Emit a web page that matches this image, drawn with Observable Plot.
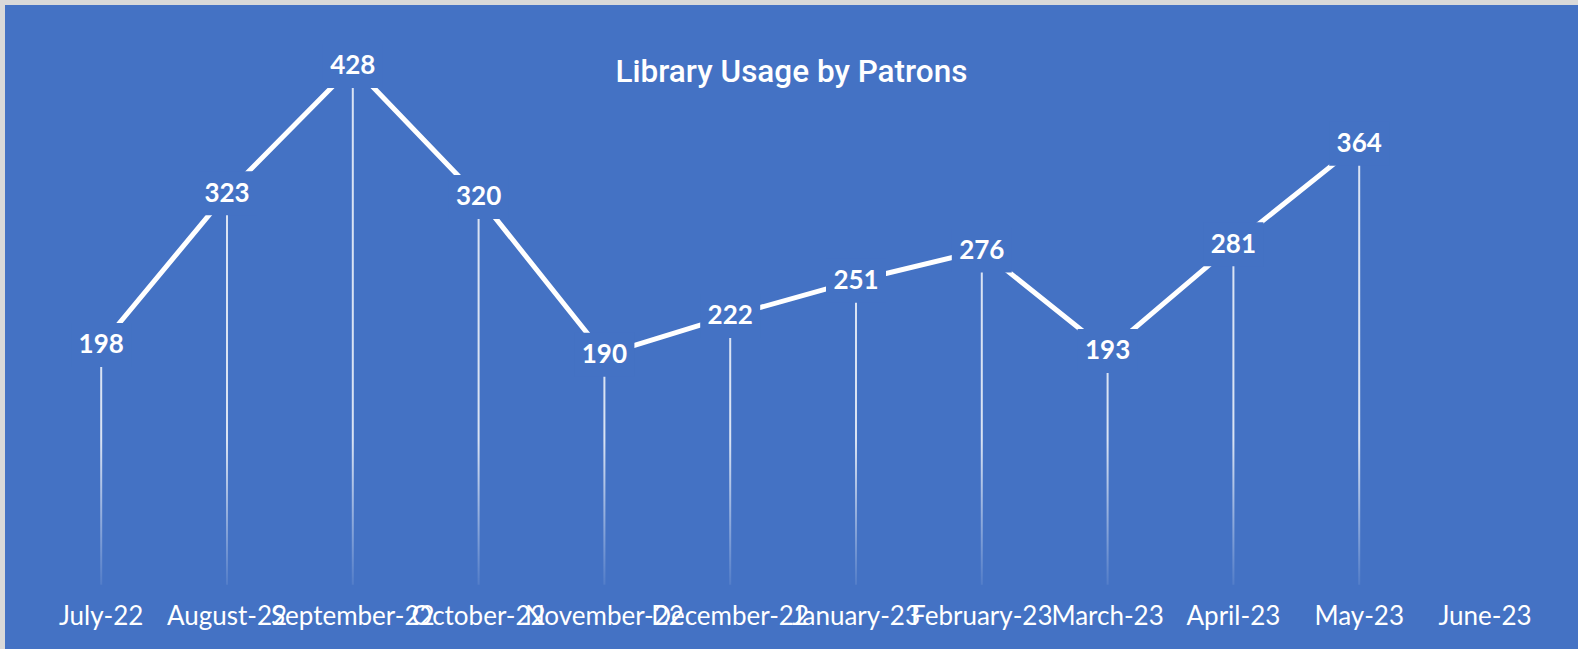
<!DOCTYPE html>
<html>
<head>
<meta charset="utf-8">
<script src="https://cdn.jsdelivr.net/npm/d3@7"></script>
<script src="https://cdn.jsdelivr.net/npm/@observablehq/plot@0.6"></script>
<style>
  html, body { margin: 0; padding: 0; background: #d9d9d9; width: 1578px; height: 649px; overflow: hidden; }
  #wrap { position: absolute; left: 5px; top: 5px; width: 1573px; height: 644px; background: #4472c4; }
  #title { position: absolute; left: 0; width: 1573px; top: 52px; text-align: center;
           font-family: Roboto, "Noto Sans", sans-serif; font-weight: 500; font-size: 31.5px; line-height: 30px; color: #ffffff; }
  #chart { position: absolute; left: 0; top: 0; }
</style>
</head>
<body>
<div id="wrap">
  <div id="chart"></div>
  <div id="title">Library Usage by Patrons</div>
</div>
<script>
const months = ["July-22","August-22","September-22","October-22","November-22","December-22",
                "January-23","February-23","March-23","April-23","May-23","June-23"];
const usage = [198, 323, 428, 320, 190, 222, 251, 276, 193, 281, 364, null];

const data = months.map((m, i) => ({month: m, value: usage[i]}));
const valued = data.filter(d => d.value != null);

const BG = "#4472c4";
const boxSymbol = {
  draw(context) {
    context.rect(-30, -22, 60, 44);
  }
};

const W = 1573, H = 644;
const plot = Plot.plot({
  width: W,
  height: H,
  marginLeft: 32.8,
  marginRight: 30.6,
  marginTop: 33.8,
  marginBottom: 64.3,
  style: {background: "transparent", overflow: "visible"},
  x: {type: "band", domain: months, padding: 0, align: 0.5, round: false, label: null},
  y: {domain: [0, 450], axis: null},
  marks: [
    Plot.ruleX(valued, {x: "month", y1: 0, y2: "value", stroke: "url(#fade)", strokeWidth: 2}),
    Plot.line(data, {x: "month", y: "value", stroke: "#ffffff", strokeWidth: 5, strokeLinecap: "butt", strokeLinejoin: "miter"}),
    Plot.dot(valued, {x: "month", y: "value", symbol: boxSymbol, fill: BG, stroke: "none"}),
    Plot.text(valued, {x: "month", y: "value", text: d => String(d.value), fill: "#ffffff",
      fontSize: 26, fontWeight: 700, fontFamily: "Lato, 'Open Sans', sans-serif", lineAnchor: "middle"}),
    Plot.axisX({tickSize: 0, tickPadding: 21, fontSize: 26, fill: "#ffffff",
      fontFamily: "Lato, 'Open Sans', sans-serif", label: null})
  ]
});

const yS = plot.scale("y");
const ns = "http://www.w3.org/2000/svg";
const defs = document.createElementNS(ns, "defs");
const grad = document.createElementNS(ns, "linearGradient");
grad.setAttribute("id", "fade");
grad.setAttribute("gradientUnits", "userSpaceOnUse");
grad.setAttribute("x1", "0"); grad.setAttribute("x2", "0");
grad.setAttribute("y1", String(yS.apply(0)));
grad.setAttribute("y2", String(yS.apply(120)));
[[0, 0.08], [1, 0.8]].forEach(([o, a]) => {
  const s = document.createElementNS(ns, "stop");
  s.setAttribute("offset", String(o));
  s.setAttribute("stop-color", "#ffffff");
  s.setAttribute("stop-opacity", String(a));
  grad.appendChild(s);
});
defs.appendChild(grad);
plot.insertBefore(defs, plot.firstChild);
document.getElementById("chart").appendChild(plot);
</script>
</body>
</html>
